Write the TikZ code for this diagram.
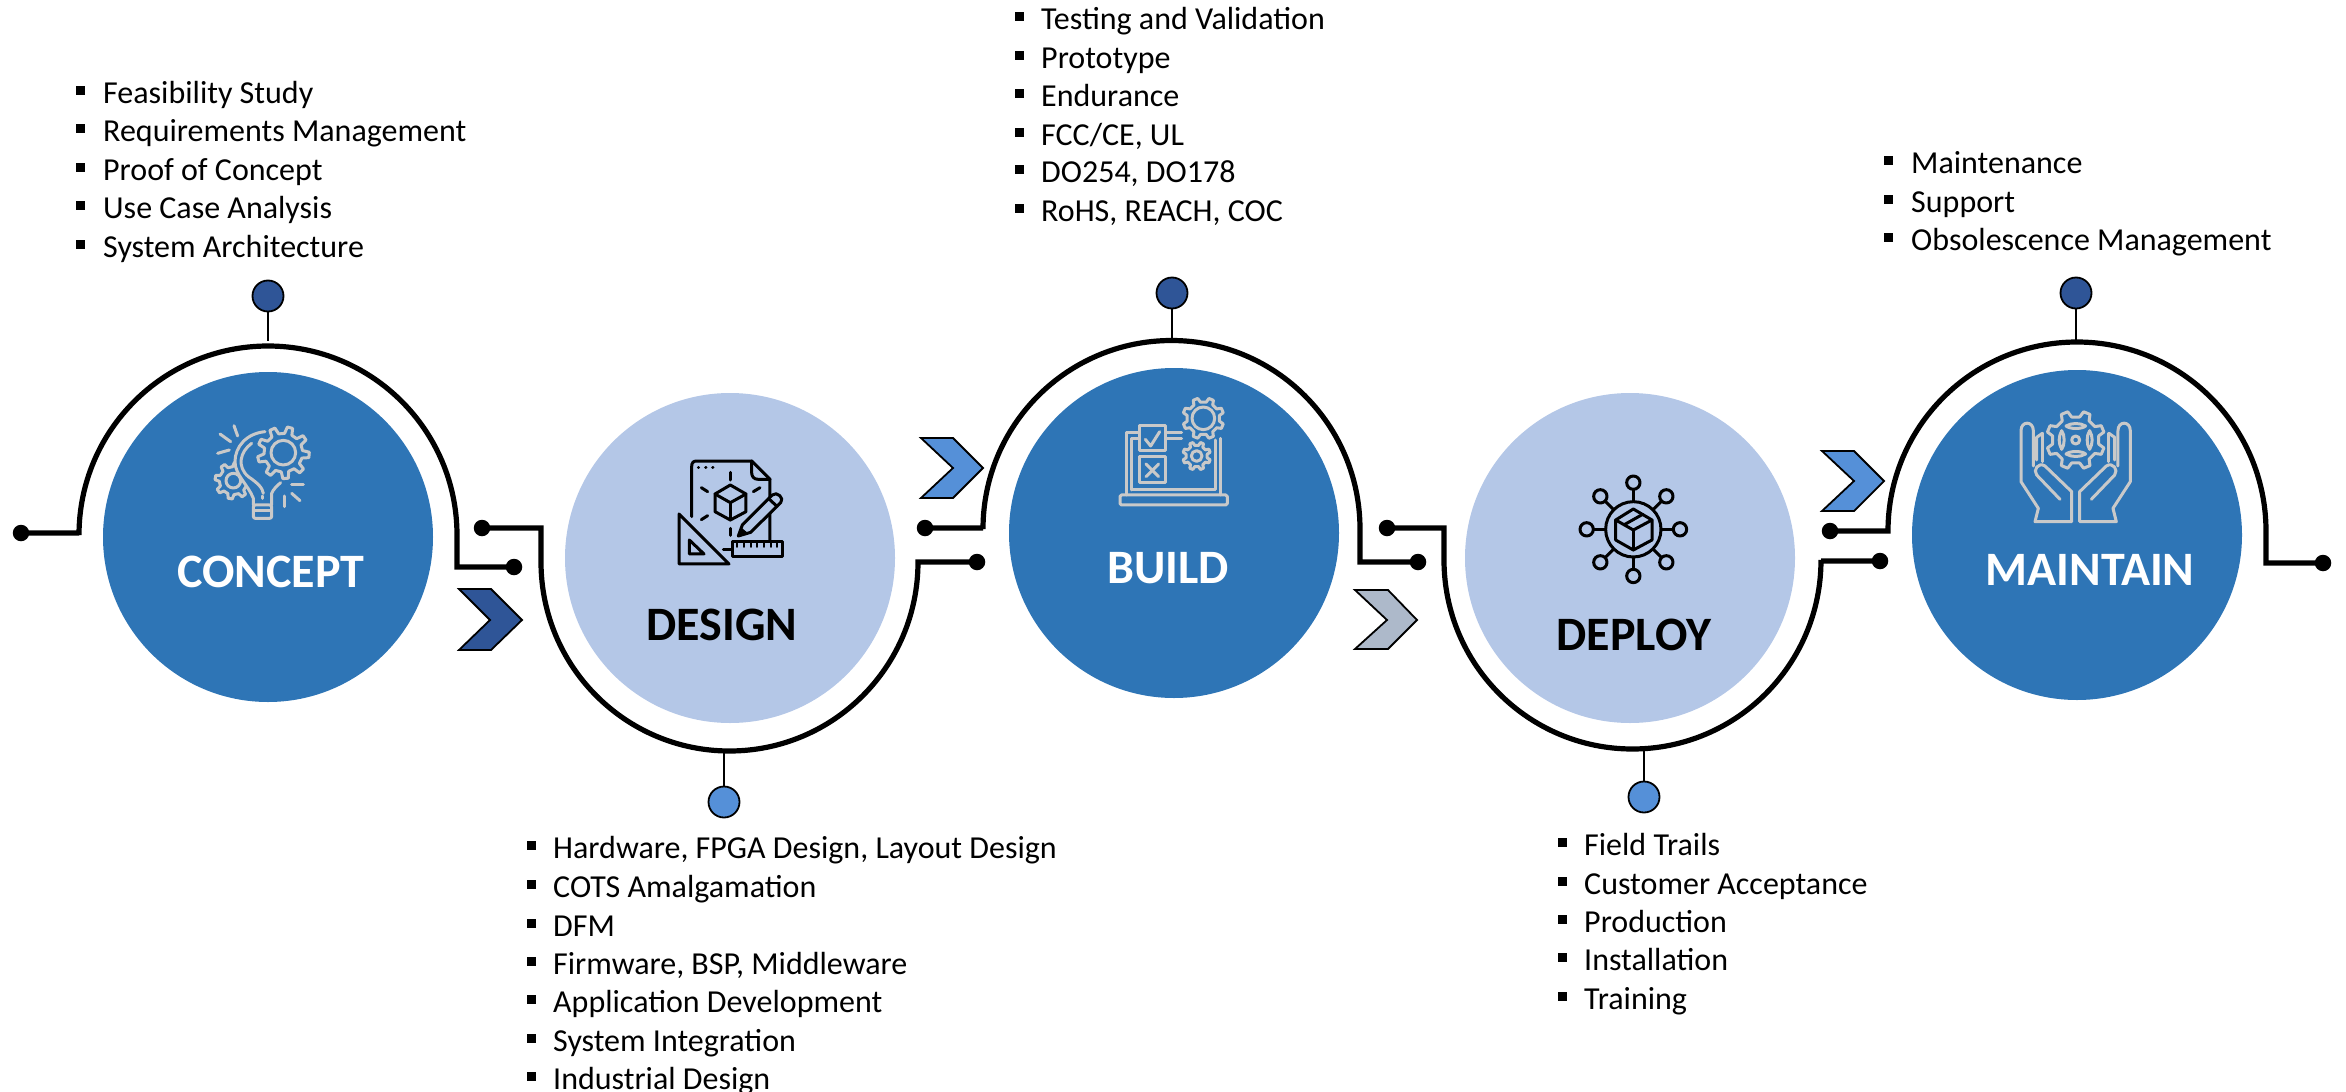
\documentclass[tikz,border=0pt]{standalone}
\usepackage{fontspec}
\setmainfont{Carlito}
\definecolor{bluedark}{HTML}{2E75B6}
\definecolor{bluelight}{HTML}{B4C7E7}
\definecolor{pinnavy}{HTML}{2F5597}
\definecolor{pinsky}{HTML}{5590D8}
\definecolor{chevgrey}{HTML}{ADB9CA}
\definecolor{icongrey}{HTML}{C9C9C9}
\tikzset{
  disc/.style={circle,draw=none,minimum size=330pt,inner sep=0pt,outer sep=0pt},
  ringline/.style={draw=black,line width=5.2pt,line join=miter},
  enddot/.style={circle,fill=black,draw=none,minimum size=16.5pt,inner sep=0pt,outer sep=0pt},
  pinball/.style={circle,draw=black,line width=1.8pt,minimum size=31pt,inner sep=0pt,outer sep=0pt},
  pinline/.style={draw=black,line width=1.5pt},
  chev/.style={draw=black,line width=1.8pt,line join=miter},
  stagewhite/.style={text=white,font=\fontsize{48}{52}\selectfont\bfseries,inner sep=0pt},
  stageblack/.style={text=black,font=\fontsize{48}{52}\selectfont\bfseries,inner sep=0pt},
  itemtext/.style={text=black,anchor=base west,inner sep=0pt,font=\fontsize{32}{38}\selectfont},
  itembul/.style={fill=black,draw=none,minimum size=9pt,inner sep=0pt,outer sep=0pt,rectangle},
  iconw/.style={draw=icongrey,line width=3pt,line cap=round,line join=round},
  iconb/.style={draw=black,line width=3pt,line cap=round,line join=round},
}
% #1 name, #2 bullet x, #3 text x, #4 centre y, #5 text
\newcommand{\listrow}[5]{%
  \node[itembul] (#1b) at (#2,#4-2.5) {};
  \node[itemtext] (#1t) at (#3,#4+10) {#5};
}
% gear outline: #1 style, #2 cx, #3 cy, #4 ro, #5 ri, #6 n, #7 offset angle
\newcommand{\gearoutline}[7]{%
  \path[#1] ({#2+#5*cos(#7-0.28*360/#6)},{#3+#5*sin(#7-0.28*360/#6)})
   \foreach \k in {0,...,\numexpr#6-1\relax} {
    -- ({#2+#5*cos(#7+(\k-0.28)*360/#6)},{#3+#5*sin(#7+(\k-0.28)*360/#6)})
    -- ({#2+#4*cos(#7+(\k-0.15)*360/#6)},{#3+#4*sin(#7+(\k-0.15)*360/#6)})
    -- ({#2+#4*cos(#7+(\k+0.15)*360/#6)},{#3+#4*sin(#7+(\k+0.15)*360/#6)})
    -- ({#2+#5*cos(#7+(\k+0.28)*360/#6)},{#3+#5*sin(#7+(\k+0.28)*360/#6)})
   } -- cycle;
}
\newcommand{\handshape}{%
  \draw[iconw] (85,295) -- (33,215) -- (33,62) .. controls (33,32) and (70,32) .. (70,62) -- (70,168);
  \draw[iconw] (97,70) -- (80,82) -- (80,150);
  \draw[iconw] (97,70) -- (97,155);
  \draw[iconw] (150,268) -- (80,195) .. controls (68,180) and (85,155) .. (105,168) -- (185,245) -- (185,335) -- (75,335) -- (85,295);
}
\begin{document}
\begin{tikzpicture}[x=1pt,y=-1pt]
\useasboundingbox (0,0) rectangle (2346,1092);

% discs
\node[disc,fill=bluedark]  (cconcept)  at (268,537)  {};
\node[disc,fill=bluelight] (cdesign)   at (730,558)  {};
\node[disc,fill=bluedark]  (cbuild)    at (1174,533) {};
\node[disc,fill=bluelight] (cdeploy)   at (1630,558) {};
\node[disc,fill=bluedark]  (cmaintain) at (2077,535) {};

% end dots
\node[enddot] (d1a) at (21,533) {};
\node[enddot] (d1b) at (514,567) {};
\node[enddot] (d2a) at (482,528) {};
\node[enddot] (d2b) at (977,562) {};
\node[enddot] (d3a) at (925,528) {};
\node[enddot] (d3b) at (1418,562) {};
\node[enddot] (d4a) at (1387,528) {};
\node[enddot] (d4b) at (1880,561) {};
\node[enddot] (d5a) at (1830,531) {};
\node[enddot] (d5b) at (2323,563) {};

% rings
\coordinate (r1a) at (79,533);  \coordinate (r1b) at (457,567);
\coordinate (r2a) at (541,528); \coordinate (r2b) at (918,562);
\coordinate (r3a) at (983,528); \coordinate (r3b) at (1360,562);
\coordinate (r4a) at (1444,528);\coordinate (r4b) at (1821,561);
\coordinate (r5a) at (1888,531);\coordinate (r5b) at (2266,563);
\draw[ringline] (d1a.center) -- (r1a) -- (79,535) arc[start angle=180,end angle=0,radius=189pt] -- (r1b) -- (d1b.center);
\draw[ringline] (d2a.center) -- (r2a) -- (541,562) arc[start angle=180,end angle=360,x radius=188.5pt,y radius=189pt] -- (r2b) -- (d2b.center);
\draw[ringline] (d3a.center) -- (r3a) -- (983,529) arc[start angle=180,end angle=0,radius=188.5pt] -- (r3b) -- (d3b.center);
\draw[ringline] (d4a.center) -- (r4a) -- (1444,560) arc[start angle=180,end angle=360,x radius=188.5pt,y radius=189pt] -- (r4b) -- (d4b.center);
\draw[ringline] (d5a.center) -- (r5a) -- (1888,531) arc[start angle=180,end angle=0,radius=189pt] -- (r5b) -- (d5b.center);

% pins
\node[pinball,fill=pinnavy] (p1) at (268,296) {};
\node[pinball,fill=pinsky]  (p2) at (724,802) {};
\node[pinball,fill=pinnavy] (p3) at (1172,293) {};
\node[pinball,fill=pinsky]  (p4) at (1644,797) {};
\node[pinball,fill=pinnavy] (p5) at (2076,293) {};
\coordinate (q1) at (268,341);
\coordinate (q2) at (724,751);
\coordinate (q3) at (1172,342);
\coordinate (q4) at (1644,750);
\coordinate (q5) at (2076,342);
\foreach \i in {1,...,5} \draw[pinline] (p\i) -- (q\i);

% chevrons
\draw[chev,fill=pinnavy]  (459,589) -- (491,589) -- (522,620) -- (491,650) -- (459,650) -- (490,620) -- cycle;
\draw[chev,fill=pinsky]   (921,438) -- (953,438) -- (983,468) -- (953,498) -- (921,498) -- (953,468) -- cycle;
\draw[chev,fill=chevgrey] (1355,590) -- (1388,590) -- (1417,620) -- (1388,649) -- (1355,649) -- (1387,620) -- cycle;
\draw[chev,fill=pinsky]   (1822,451) -- (1854,451) -- (1884,481) -- (1854,511) -- (1822,511) -- (1854,481) -- cycle;

% stage names
\node[stagewhite] (tconcept)  at (271,572)  {CONCEPT};
\node[stageblack] (tdesign)   at (722,625)  {DESIGN};
\node[stagewhite] (tbuild)    at (1168,568) {BUILD};
\node[stageblack] (tdeploy)   at (1634,635) {DEPLOY};
\node[stagewhite] (tmaintain) at (2090,570) {MAINTAIN};

% lists
\listrow{a1}{80.5}{103}{93}{Feasibility Study}
\listrow{a2}{80.5}{103}{131}{Requirements Management}
\listrow{a3}{80.5}{103}{170}{Proof of Concept}
\listrow{a4}{80.5}{103}{208}{Use Case Analysis}
\listrow{a5}{80.5}{103}{247}{System Architecture}

\listrow{b1}{531}{553}{848}{Hardware, FPGA Design, Layout Design}
\listrow{b2}{531}{553}{887}{COTS Amalgamation}
\listrow{b3}{531}{553}{926}{DFM}
\listrow{b4}{531}{553}{964}{Firmware, BSP, Middleware}
\listrow{b5}{531}{553}{1002}{Application Development}
\listrow{b6}{531}{553}{1041}{System Integration}
\listrow{b7}{531}{553}{1079}{Industrial Design}

\listrow{e1}{1019}{1041}{19}{Testing and Validation}
\listrow{e2}{1019}{1041}{58}{Prototype}
\listrow{e3}{1019}{1041}{96}{Endurance}
\listrow{e4}{1019}{1041}{135}{FCC/CE, UL}
\listrow{e5}{1019}{1041}{172}{DO254, DO178}
\listrow{e6}{1019}{1041}{211}{RoHS, REACH, COC}

\listrow{f1}{1562}{1584}{845}{Field Trails}
\listrow{f2}{1562}{1584}{884}{Customer Acceptance}
\listrow{f3}{1562}{1584}{922}{Production}
\listrow{f4}{1562}{1584}{960}{Installation}
\listrow{f5}{1562}{1584}{999}{Training}

\listrow{m1}{1888.5}{1911}{163}{Maintenance}
\listrow{m2}{1888.5}{1911}{202}{Support}
\listrow{m3}{1888.5}{1911}{240}{Obsolescence Management}

% --- icon: concept
\begin{scope}[shift={(190,410)},x=0.3333pt,y=-0.3333pt]
  \gearoutline{iconw,fill=bluedark}{130}{212}{55}{42}{8}{10}
  \draw[iconw] (130,212) circle[radius=22pt*0.3333];
  \fill[bluedark] (225,65) .. controls (170,70) and (135,110) .. (135,155)
     .. controls (135,195) and (175,225) .. (190,265) -- (190,285) -- (245,285) -- (245,250) -- (272,218) -- cycle;
  \draw[iconw] (225,65) .. controls (170,70) and (135,110) .. (135,155)
     .. controls (135,195) and (175,225) .. (190,265) -- (190,285);
  \draw[iconw] (245,285) -- (245,250) .. controls (250,238) and (260,228) .. (272,218);
  \draw[iconw] (185,100) .. controls (150,125) and (140,170) .. (175,200) .. controls (205,220) and (218,235) .. (220,250);
  \gearoutline{iconw,fill=bluedark}{280}{128}{78}{58}{9}{5}
  \draw[iconw] (280,128) circle[radius=37pt*0.3333];
  \draw[iconw] (217,258) -- (217,265);
  \draw[iconw,rounded corners=2pt] (190,285) -- (190,325) -- (245,325) -- (245,285) -- cycle;
  \draw[iconw] (192,303) -- (243,303);
  \draw[iconw] (132,47) -- (143,78);
  \draw[iconw] (90,72) -- (122,95);
  \draw[iconw] (83,130) -- (118,120);
  \draw[iconw] (305,225) -- (340,225);
  \draw[iconw] (305,250) -- (330,272);
  \draw[iconw] (283,258) -- (283,290);
\end{scope}

% --- icon: design
\begin{scope}[shift={(660,450)},x=0.3333pt,y=-0.3333pt]
  \draw[iconb] (95,200) -- (95,50) .. controls (95,38) and (100,33) .. (110,33) -- (275,33) -- (330,88) -- (330,275);
  \draw[iconb] (275,33) -- (275,68) .. controls (275,80) and (282,88) .. (295,88) -- (330,88);
  \draw[iconb] (115,52) -- (116,52);
  \draw[iconb] (137,52) -- (138,52);
  \draw[iconb] (158,52) -- (159,52);
  \draw[iconb] (211,67) -- (211,90);
  \draw[iconb] (124,113) -- (143,125);
  \draw[iconb] (300,113) -- (280,125);
  \draw[iconb] (124,209) -- (143,197);
  \draw[iconb] (211,235) -- (211,256);
  \draw[iconb] (211,105) -- (258,132) -- (258,185) -- (211,210) -- (165,185) -- (165,132) -- cycle;
  \draw[iconb] (165,132) -- (211,158) -- (258,132);
  \draw[iconb] (211,158) -- (211,210);
  \path[iconb,fill=bluelight] (235,258) -- (247,225) -- (337,135) .. controls (350,122) and (375,145) .. (362,158) -- (272,247) -- cycle;
  \fill[black] (235,258) -- (243,232) -- (265,250) -- cycle;
  \draw[iconb] (326,146) -- (351,169);
  \draw[iconb,fill=bluelight] (57,192) -- (207,342) -- (57,342) -- cycle;
  \draw[iconb] (88,270) -- (132,312) -- (88,312) -- cycle;
  \draw[iconb,fill=bluelight] (216,276) rectangle (367,320);
  \foreach \xx in {232,252,272,292,312,332,352} \draw[iconb,line width=1.7pt] (\xx,278) -- (\xx,291);
  \draw[iconb] (190,298) -- (216,298);
\end{scope}

% --- icon: build
\begin{scope}[shift={(1110,390)},x=0.3333pt,y=-0.3333pt]
  \gearoutline{iconw}{280}{85}{62}{49}{8}{22.5}
  \draw[iconw] (280,85) circle[radius=34pt*0.3333];
  \gearoutline{iconw}{260}{198}{42}{32}{8}{22.5}
  \draw[iconw] (260,198) circle[radius=16pt*0.3333];
  \draw[iconw,rounded corners=1.5pt] (30,315) -- (352,315) -- (352,345) -- (30,345) -- cycle;
  \draw[iconw] (50,315) -- (50,128) -- (88,128);
  \draw[iconw] (65,300) -- (65,145) -- (88,145);
  \draw[iconw] (65,300) -- (315,300) -- (315,150);
  \draw[iconw] (330,145) -- (330,315);
  \draw[iconw] (168,128) -- (215,128);
  \draw[iconw] (168,145) -- (215,145);
  \draw[iconw] (88,107) rectangle (165,183);
  \draw[iconw] (106,148) -- (122,168) -- (149,125);
  \draw[iconw] (88,200) rectangle (165,278);
  \draw[iconw] (108,222) -- (146,260);
  \draw[iconw] (146,222) -- (108,260);
\end{scope}

% --- icon: deploy
\begin{scope}[shift={(1570,470)},x=0.3333pt,y=-0.3333pt]
  \draw[iconb] (190,178) circle[radius=83pt*0.3333];
  \foreach \aa in {0,45,...,315} {
    \draw[iconb,line cap=butt] ({190+83*cos(\aa)},{178+83*sin(\aa)}) -- ({190+120*cos(\aa)},{178+120*sin(\aa)});
    \draw[iconb] ({190+140*cos(\aa)},{178+140*sin(\aa)}) circle[radius=20pt*0.3333];
  }
  \draw[iconb] (190,117) -- (246,150) -- (246,210) -- (190,240) -- (137,210) -- (137,150) -- cycle;
  \draw[iconb] (137,150) -- (190,180) -- (246,150);
  \draw[iconb] (190,180) -- (190,240);
  \draw[iconb] (163,164) -- (218,133);
\end{scope}

% --- icon: maintain
\begin{scope}[shift={(2010,410)},x=0.3333pt,y=-0.3333pt]
  \gearoutline{iconw}{197}{90}{88}{70}{8}{22.5}
  \draw[iconw] (197,90) circle[radius=12pt*0.3333];
  \draw[iconw] (168,48) .. controls (185,38) and (210,38) .. (227,48) .. controls (215,58) and (180,58) .. (168,48) -- cycle;
  \draw[iconw] (168,132) .. controls (185,142) and (210,142) .. (227,132) .. controls (215,122) and (180,122) .. (168,132) -- cycle;
  \draw[iconw] (155,62) .. controls (145,80) and (145,100) .. (155,118) .. controls (165,105) and (165,75) .. (155,62) -- cycle;
  \draw[iconw] (239,62) .. controls (249,80) and (249,100) .. (239,118) .. controls (229,105) and (229,75) .. (239,62) -- cycle;
  \handshape
\end{scope}
\begin{scope}[shift={(2141.3,410)},x=-0.3333pt,y=-0.3333pt]
  \handshape
\end{scope}
\end{tikzpicture}
\end{document}
